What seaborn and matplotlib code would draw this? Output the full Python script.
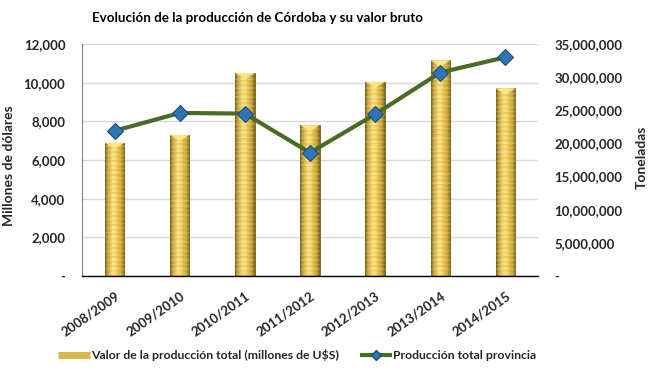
import numpy as np
import pandas as pd
import matplotlib
matplotlib.use("Agg")
import matplotlib.pyplot as plt
import seaborn as sns
from matplotlib.lines import Line2D
from matplotlib.patches import Polygon
from matplotlib.ticker import FuncFormatter, FixedLocator

# ---- data ----
campanas = ["2008/2009", "2009/2010", "2010/2011", "2011/2012",
            "2012/2013", "2013/2014", "2014/2015"]
valor_produccion = [6900, 7300, 10500, 7800, 10050, 11150, 9700]          # millones de U$S
produccion_toneladas = [21900000, 24600000, 24500000, 18600000,
                        24400000, 30700000, 33000000]                      # toneladas
left_ticks = [0, 2000, 4000, 6000, 8000, 10000, 12000]
right_ticks = [0, 5000000, 10000000, 15000000, 20000000, 25000000, 30000000, 35000000]

titulo = "Evolución de la producción de Córdoba y su valor bruto"
label_izq = "Millones de dólares"
label_der = "Toneladas"
leg_barras = "Valor de la producción total (millones de U$S)"
leg_linea = "Producción total provincia"

# ---- style ----
sns.set_theme(style="white")
plt.rcParams["font.family"] = ["Lato", "DejaVu Sans"]
plt.rcParams["font.weight"] = "bold"

W, H = 650, 370
fig = plt.figure(figsize=(W / 100, H / 100), dpi=100)
fig.patch.set_facecolor("white")
ax = fig.add_axes([82 / W, 94 / H, 456 / W, 232 / H])

df = pd.DataFrame({"campana": campanas, "valor": valor_produccion})
sns.barplot(data=df, x="campana", y="valor", ax=ax, color="#D9B64A",
            width=0.3, edgecolor="#6E5A1C", linewidth=0.6, zorder=2)

ax.set_xlim(-0.5, len(campanas) - 0.5)
ax.set_ylim(left_ticks[0], left_ticks[-1])

# golden cylinder texture clipped to each bar
dark = np.array([0.50, 0.40, 0.10])
base = np.array([0.92, 0.78, 0.30])
light = np.array([1.00, 0.95, 0.62])
orange = np.array([0.95, 0.60, 0.15])
ncols = 24
t = np.linspace(0, 1, ncols)
prof = np.sin(np.pi * t) ** 0.7
hl = np.exp(-((t - 0.42) / 0.18) ** 2)
for p in list(ax.patches):
    x0, w, h = p.get_x(), p.get_width(), p.get_height()
    hpx = h / (left_ticks[-1] - left_ticks[0]) * 232
    nrows = max(int(hpx / 1.5), 2)
    img = np.zeros((nrows, ncols, 3))
    for i in range(nrows):
        row = dark[None, :] * (1 - prof[:, None]) + base[None, :] * prof[:, None]
        row = row * (1 - hl[:, None] * 0.6) + light[None, :] * hl[:, None] * 0.6
        if i % 3 == 0:
            row = row * 0.75 + orange[None, :] * 0.25 * prof[:, None] + row * 0.25 * (1 - prof[:, None])
        elif i % 3 == 1:
            row = row * 0.85 + 0.15
        img[i] = np.clip(row, 0, 1)
    im = ax.imshow(img, extent=(x0, x0 + w, 0, h), aspect="auto", origin="lower",
                   interpolation="nearest", zorder=2.5)
    im.set_clip_path(p)
    d = 6 / 232 * (left_ticks[-1] - left_ticks[0])
    tri = Polygon([(x0, h), (x0 + w, h), (x0 + w / 2, h - d)], closed=True,
                  facecolor="#FBE985", edgecolor="none", zorder=2.6, alpha=0.9)
    ax.add_patch(tri)

ax.set_xlim(-0.5, len(campanas) - 0.5)
ax.set_ylim(left_ticks[0], left_ticks[-1])
ax.set_aspect("auto")

fmt = FuncFormatter(lambda v, pos: "-" if v == 0 else f"{v:,.0f}")
ax.yaxis.set_major_locator(FixedLocator(left_ticks))
ax.yaxis.set_major_formatter(fmt)
ax.set_axisbelow(True)
ax.yaxis.grid(True, color="#D9D9D9", linewidth=1)
ax.xaxis.grid(False)
ax.set_xlabel("")
ax.set_ylabel("")
ax.tick_params(axis="y", length=0, pad=12, labelsize=9.5)
ax.tick_params(axis="x", length=0, pad=10, labelsize=9.5)
for lab in ax.get_xticklabels():
    lab.set_rotation(35)
    lab.set_ha("right")
    lab.set_rotation_mode("anchor")
    lab.set_fontweight("bold")
for lab in ax.get_yticklabels():
    lab.set_fontweight("bold")
for s in ["top", "right"]:
    ax.spines[s].set_visible(False)
ax.spines["left"].set_color("#808080")
ax.spines["left"].set_linewidth(0.8)
ax.spines["bottom"].set_color("#000000")
ax.spines["bottom"].set_linewidth(1.0)

# line on secondary axis
ax2 = ax.twinx()
sns.lineplot(x=np.arange(len(campanas)), y=produccion_toneladas, ax=ax2,
             color="#4A6B24", linewidth=3, marker="D", markersize=8,
             markerfacecolor="#2E75B6", markeredgecolor="#1F4E79",
             markeredgewidth=0.8, zorder=5)
ax2.set_xlim(-0.5, len(campanas) - 0.5)
ax2.set_ylim(right_ticks[0], right_ticks[-1])
ax2.yaxis.set_major_locator(FixedLocator(right_ticks))
ax2.yaxis.set_major_formatter(fmt)
ax2.tick_params(axis="y", length=0, pad=12, labelsize=9.5)
for lab in ax2.get_yticklabels():
    lab.set_fontweight("bold")
ax2.grid(False)
for s in ax2.spines.values():
    s.set_visible(False)
ax2.set_ylabel("")

# texts
fig.text(258 / W, 1 - 18 / H, titulo, ha="center", va="center",
         fontsize=9.6, fontweight="bold", color="#000000")
fig.text(9 / W, 1 - 166 / H, label_izq, ha="center", va="center",
         rotation=90, fontsize=10, fontweight="bold")
fig.text(642 / W, 1 - 157 / H, label_der, ha="center", va="center",
         rotation=90, fontsize=10, fontweight="bold")

# legend
h1 = Line2D([], [], color="#D9B64A", linewidth=5, solid_capstyle="butt")
h2 = Line2D([], [], color="#4A6B24", linewidth=3, marker="D", markersize=5,
            markerfacecolor="#2E75B6", markeredgecolor="#1F4E79",
            solid_capstyle="butt")
fig.legend([h1, h2], [leg_barras, leg_linea], loc="center left",
           bbox_to_anchor=(47 / W, 1 - 355 / H), ncol=2, frameon=False,
           handlelength=2.6, handletextpad=0.1, columnspacing=1.7,
           borderaxespad=0.5, borderpad=0.4,
           prop={"size": 8.8, "weight": "bold"})

fig.savefig("out.png", dpi=100, facecolor="white")
